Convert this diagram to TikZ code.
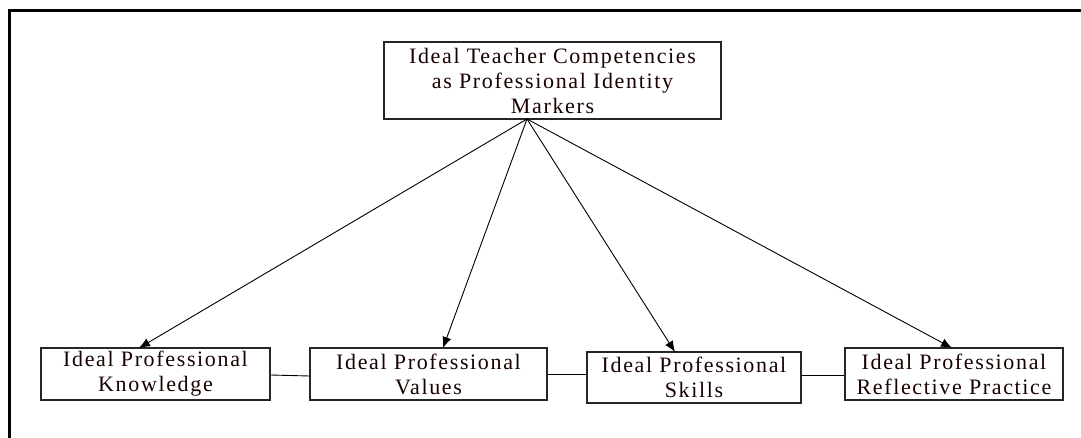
\documentclass[tikz,border=0pt]{standalone}
\usepackage{fontspec}
\setmainfont{Liberation Serif}
\usetikzlibrary{arrows.meta}
\begin{document}
\begin{tikzpicture}[x=1pt,y=-1pt,
  box/.style={draw=black!85,line width=1.4pt,align=center,inner sep=0pt,
    font=\fontsize{22}{25}\selectfont\addfontfeatures{LetterSpace=7.5},text=black!90!red},
  arr/.style={line width=0.9pt,-{Latex[length=11pt,width=9pt]}},
  link/.style={line width=0.9pt}]
\useasboundingbox (0,0) rectangle (1081,438);
\begin{scope}
\clip (0,0) rectangle (1081,438);
\fill[white] (0,0) rectangle (1081,438);
\draw[line width=3pt] (1100,11) -- (9.5,11) -- (9.5,460);
\end{scope}
\node[box,minimum width=337pt,minimum height=77pt] (top) at (552.5,80.5)
  {Ideal Teacher Competencies\\as Professional Identity\\Markers};
\node[box,minimum width=229pt,minimum height=52pt] (k) at (155.5,374)
  {Ideal Professional\\Knowledge};
\node[box,minimum width=237pt,minimum height=52pt] (v) at (428.5,374)
  {Ideal Professional\\Values};
\node[box,minimum width=214pt,minimum height=51pt] (s) at (694,377.5)
  {Ideal Professional\\Skills};
\node[box,minimum width=218pt,minimum height=52pt] (r) at (954,374)
  {Ideal Professional\\Reflective Practice};
\coordinate (apex) at (527,119);
\coordinate (kt) at (139,348);
\coordinate (vt) at (443,348);
\coordinate (st) at (675,352);
\coordinate (rt) at (952,348);
\draw[arr] (apex) -- (kt);
\draw[arr] (apex) -- (vt);
\draw[arr] (apex) -- (st);
\draw[arr] (apex) -- (rt);
\draw[link] (k.east |- 0,375) -- (v.west |- 0,376);
\draw[link] (v.east |- 0,374) -- (s.west |- 0,374);
\draw[link] (s.east |- 0,375) -- (r.west |- 0,375);
\end{tikzpicture}
\end{document}
